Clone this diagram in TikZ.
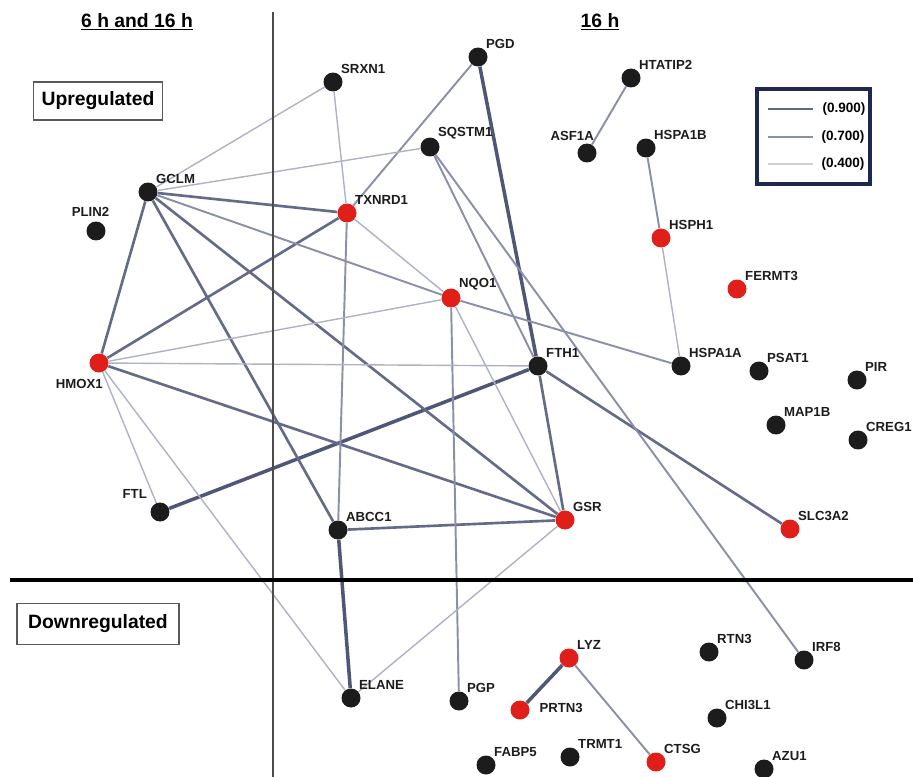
\documentclass[tikz,border=0pt]{standalone}
\usepackage{fontspec}
\setmainfont{Liberation Sans}
\definecolor{upred}{HTML}{E01E1A}
\definecolor{gnblack}{HTML}{1C1C1C}
\definecolor{edheavy}{HTML}{505776}
\definecolor{edstrong}{HTML}{646B88}
\definecolor{edmid}{HTML}{8A90A8}
\definecolor{edweak}{HTML}{AEB2C4}
\definecolor{legnavy}{HTML}{1E2850}
\usetikzlibrary{backgrounds}

\begin{document}
\begin{tikzpicture}[
  x=0.02cm, y=-0.02cm,
  gene/.style={circle, fill=gnblack, minimum size=3.8mm, inner sep=0pt},
  hit/.style={gene, fill=upred},
  tag/.style={font=\fontsize{7.5}{9}\selectfont\bfseries, inner sep=0.5pt, text=gnblack},
  ne/.style={label={[tag]north east:#1}},
  regbox/.style={draw=black!65, line width=0.6pt, font=\fontsize{11}{13}\selectfont\bfseries,
    inner sep=0pt},
  head/.style={font=\fontsize{11}{13}\selectfont\bfseries},
  e-heavy/.style={draw=edheavy, line width=2pt},
  e-strong/.style={draw=edstrong, line width=1.5pt},
  e-mid/.style={draw=edmid, line width=1.1pt},
  e-weak/.style={draw=edweak, line width=0.8pt},
  legtxt/.style={font=\fontsize{7.7}{9}\selectfont\bfseries, inner sep=0pt}
]
\useasboundingbox (0,0) rectangle (913,777);

% Panels
\draw[black!70, line width=0.6pt] (273,12) -- (273,777);
\draw[black, line width=2.3pt] (10,580) -- (913,580);
\node[head] (h-both) at (137,22) {\underline{6 h and 16 h}};
\node[head] (h-late) at (600,22) {\underline{16 h}};
\node[regbox, minimum width=2.58cm, minimum height=0.76cm] (up) at (98,101) {Upregulated};
\node[regbox, minimum width=3.24cm, minimum height=0.82cm] (down) at (98,624) {Downregulated};

% Legend
\draw[legnavy, line width=2.3pt] (757,89) rectangle (870,184);
\draw[edheavy!90, line width=1.5pt] (768,109) -- (813,109);
\draw[edmid, line width=1.5pt] (768,137) -- (813,137);
\draw[black!18, line width=1.5pt] (768,164) -- (813,164);
\node[legtxt] (leg-a) at (844,109) {(0.900)};
\node[legtxt] (leg-b) at (843,137) {(0.700)};
\node[legtxt] (leg-c) at (843,164) {(0.400)};

% Upregulated genes
\node[gene, ne=SRXN1] (srxn1) at (333,82) {};
\node[gene, ne=PGD] (pgd) at (478,57) {};
\node[gene, ne=HTATIP2] (htatip2) at (631,78) {};
\node[gene, ne=SQSTM1] (sqstm1) at (430,147) {};
\node[gene, label={[tag, anchor=south east, xshift=0.16cm, yshift=1pt]north:ASF1A}] (asf1a) at (587,153) {};
\node[gene, ne=HSPA1B] (hspa1b) at (646,148) {};
\node[gene, ne=GCLM] (gclm) at (148,192) {};
\node[hit, ne=TXNRD1] (txnrd1) at (347,213) {};
\node[gene, label={[tag, xshift=-0.11cm, yshift=2pt]above:PLIN2}] (plin2) at (96,231) {};
\node[hit, ne=HSPH1] (hsph1) at (661,238) {};
\node[hit, ne=FERMT3] (fermt3) at (737,289) {};
\node[hit, ne=NQO1] (nqo1) at (451,298) {};
\node[hit, label={[tag, anchor=north east, xshift=0.1cm, yshift=-3pt]south:HMOX1}] (hmox1) at (99,363) {};
\node[gene, ne=FTH1] (fth1) at (538,366) {};
\node[gene, ne=HSPA1A] (hspa1a) at (681,366) {};
\node[gene, ne=PSAT1] (psat1) at (759,371) {};
\node[gene, ne=PIR] (pir) at (857,380) {};
\node[gene, ne=MAP1B] (map1b) at (776,425) {};
\node[gene, ne=CREG1] (creg1) at (858,440) {};
\node[gene, label={[tag, anchor=south east, xshift=-0.1cm, yshift=3pt]north west:FTL}] (ftl) at (160,512) {};
\node[gene, ne=ABCC1] (abcc1) at (338,530) {};
\node[hit, ne=GSR] (gsr) at (565,520) {};
\node[hit, ne=SLC3A2] (slc3a2) at (790,529) {};

% Downregulated genes
\node[hit, ne=LYZ] (lyz) at (569,658) {};
\node[gene, ne=RTN3] (rtn3) at (709,652) {};
\node[gene, ne=IRF8] (irf8) at (804,660) {};
\node[gene, ne=ELANE] (elane) at (351,698) {};
\node[gene, ne=PGP] (pgp) at (459,701) {};
\node[hit, label={[tag, xshift=0.17cm, yshift=1pt]right:PRTN3}] (prtn3) at (520,710) {};
\node[gene, ne=CHI3L1] (chi3l1) at (717,718) {};
\node[gene, ne=FABP5] (fabp5) at (486,765) {};
\node[gene, ne=TRMT1] (trmt1) at (570,757) {};
\node[hit, ne=CTSG] (ctsg) at (656,762) {};
\node[gene, ne=AZU1] (azu1) at (764,769) {};

% Interactions
\begin{scope}[on background layer]
\draw[e-heavy] (ftl) -- (fth1);
\draw[e-heavy] (pgd) -- (fth1);
\draw[e-heavy] (abcc1) -- (elane);
\draw[e-heavy] (lyz) -- (prtn3);

\draw[e-strong] (gclm) -- (gsr);
\draw[e-strong] (gclm) -- (abcc1);
\draw[e-strong] (gclm) -- (txnrd1);
\draw[e-strong] (gclm) -- (hmox1);
\draw[e-strong] (fth1) -- (gsr);
\draw[e-strong] (abcc1) -- (gsr);
\draw[e-strong] (fth1) -- (slc3a2);
\draw[e-strong] (hmox1) -- (gsr);
\draw[e-strong] (hmox1) -- (txnrd1);

\draw[e-mid] (pgd) -- (txnrd1);
\draw[e-mid] (gclm) -- (nqo1);
\draw[e-mid] (nqo1) -- (pgp);
\draw[e-mid] (nqo1) -- (hspa1a);
\draw[e-mid] (sqstm1) -- (fth1);
\draw[e-mid] (sqstm1) -- (irf8);
\draw[e-mid] (txnrd1) -- (abcc1);
\draw[e-mid] (htatip2) -- (asf1a);
\draw[e-mid] (hspa1b) -- (hsph1);
\draw[e-mid] (lyz) -- (ctsg);

\draw[e-weak] (gclm) -- (srxn1);
\draw[e-weak] (gclm) -- (sqstm1);
\draw[e-weak] (srxn1) -- (txnrd1);
\draw[e-weak] (txnrd1) -- (nqo1);
\draw[e-weak] (hmox1) -- (nqo1);
\draw[e-weak] (hmox1) -- (fth1);
\draw[e-weak] (hmox1) -- (ftl);
\draw[e-weak] (hmox1) -- (elane);
\draw[e-weak] (nqo1) -- (gsr);
\draw[e-weak] (gsr) -- (elane);
\draw[e-weak] (hsph1) -- (hspa1a);
\end{scope}

\end{tikzpicture}
\end{document}
